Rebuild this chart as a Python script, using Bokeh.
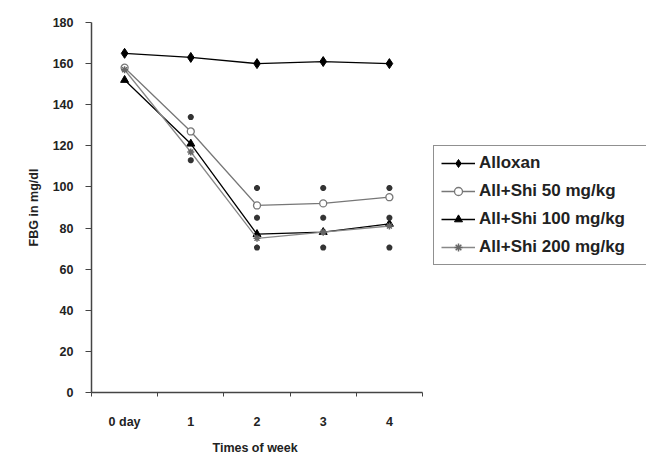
from bokeh.plotting import figure
from bokeh.models import FixedTicker, Legend, LegendItem, Range1d, Title
from bokeh.embed import file_html
from bokeh.resources import INLINE

weeks = ["0 day", "1", "2", "3", "4"]
alloxan = [165, 163, 160, 161, 160]
shi50 = [158, 127, 91, 92, 95]
shi100 = [152, 121, 77, 78, 82]
shi200 = [157, 117, 75, 78, 81]
star_x = [1, 1, 2, 2, 2, 3, 3, 3, 4, 4, 4]
star_y = [134, 113, 99.5, 85, 70.5, 99.5, 85, 70.5, 99.5, 85, 70.5]
y_ticks = list(range(0, 181, 20))

xs = list(range(len(weeks)))
n = len(weeks)

# frame spans data area (331 px) plus legend area to its right
FRAME_W = 555
DATA_W = 331
x_end = -0.5 + n * FRAME_W / DATA_W

p = figure(frame_width=FRAME_W, frame_height=370, output_backend="svg", toolbar_location=None,
           x_range=Range1d(-0.5, x_end), y_range=Range1d(0, 180),
           min_border_left=91, min_border_right=0, min_border_top=22,
           min_border_bottom=62)
p.outline_line_color = None
p.grid.visible = False
p.background_fill_color = "white"

font = "Liberation Sans"
lab = "#222222"

r1l = p.line(xs, alloxan, line_color="black", line_width=1.3)
r1m = p.scatter(xs, alloxan, marker="diamond", size=10, color="black")
r2l = p.line(xs, shi50, line_color="#777777", line_width=1.3)
r2m = p.scatter(xs, shi50, marker="circle", size=7, fill_color="white", line_color="#777777", line_width=1.3)
r3l = p.line(xs, shi100, line_color="black", line_width=1.3)
r3m = p.scatter(xs, shi100, marker="triangle", size=8, color="black")
r4l = p.line(xs, shi200, line_color="#888888", line_width=1.3)
r4m = p.scatter(xs, shi200, marker="asterisk", size=7, line_color="#666666", line_width=1.5)

p.scatter(star_x, star_y, marker="asterisk", size=6, line_color="#333333", line_width=2)

# axes
p.xaxis.bounds = (-0.5, n - 0.5)
p.xaxis.ticker = FixedTicker(ticks=xs, minor_ticks=[x - 0.5 for x in range(n + 1)])
p.xaxis.major_label_overrides = {i: w for i, w in enumerate(weeks)}
p.xaxis.minor_tick_out = 4
p.xaxis.minor_tick_in = 0
p.xaxis.minor_tick_line_color = "#444444"
p.xaxis.major_label_standoff = 16

p.yaxis.ticker = FixedTicker(ticks=y_ticks)
p.yaxis.minor_tick_line_color = None
p.yaxis.major_tick_out = 6
p.yaxis.major_tick_in = 0
p.yaxis.axis_label = "FBG in mg/dl"
p.yaxis.major_label_standoff = 12
p.yaxis.axis_label_standoff = 9

for ax in (p.xaxis[0], p.yaxis[0]):
    ax.axis_line_color = "#444444"
    ax.axis_line_width = 1.5
    ax.major_label_text_font = font
    ax.major_label_text_font_style = "bold"
    ax.major_label_text_font_size = "12.5px"
    ax.major_label_text_color = lab
    ax.axis_label_text_font = font
    ax.axis_label_text_font_style = "bold"
    ax.axis_label_text_font_size = "12.5px"
    ax.axis_label_text_color = lab
p.yaxis.major_tick_line_color = "#444444"
p.xaxis.major_tick_line_color = None

# x-axis title centred under the data area (not the whole frame)
xtitle = Title(text="Times of week", align="left", offset=121, standoff=14,
               text_font=font, text_font_style="bold", text_font_size="12.5px",
               text_color=lab)
p.add_layout(xtitle, "below")

legend = Legend(items=[
    LegendItem(label="Alloxan", renderers=[r1l, r1m]),
    LegendItem(label="All+Shi 50 mg/kg", renderers=[r2l, r2m]),
    LegendItem(label="All+Shi 100 mg/kg", renderers=[r3l, r3m]),
    LegendItem(label="All+Shi 200 mg/kg", renderers=[r4l, r4m]),
], location=(342, 127))
legend.label_text_font = font
legend.label_text_font_style = "bold"
legend.label_text_font_size = "17px"
legend.label_text_color = lab
legend.border_line_color = "#222222"
legend.border_line_width = 1.5
legend.glyph_width = 34
legend.glyph_height = 20
legend.label_height = 20
legend.label_width = 160
legend.spacing = 8
legend.padding = 7
legend.margin = 0
legend.label_standoff = 4
p.add_layout(legend, "center")

open("out.html", "w").write(file_html(p, INLINE))
